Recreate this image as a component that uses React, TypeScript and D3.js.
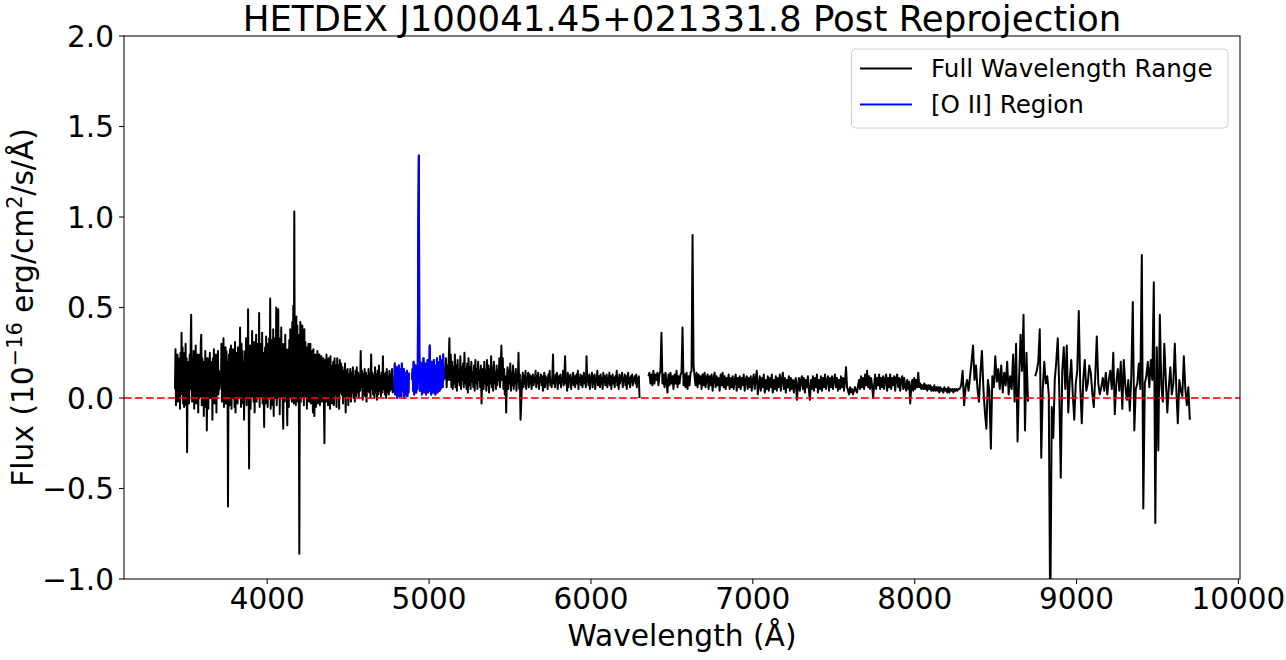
import React from "react";
import * as d3 from "d3";

// ---------- data (flux in 1e-16 erg/cm^2/s/Å) ----------
// Each segment: wavelength start, wavelength end, flux samples (evenly spaced in Å)
const fluxA = [.05,.27,-.04,.20,.02,.24,-.02,.22,.00,.18,-.06,.25,.04,.36,.02,.28,-.03,.25,-.05,.20,.02,.30,-.04,.22,-.30,.18,.00,.20,-.03,.24,.05,.28,.46,.10,-.02,.22,.04,.26,-.06,.20,.02,.29,-.03,.18,.03,.24,-.08,.20,.00,.24,.01,.30,.35,-.04,.22,.00,.20,-.10,.18,.03,.26,-.05,.22,-.18,.15,.22,-.06,.19,.02,.25,.00,.20,.03,.19,-.12,.22,.00,.27,-.03,.21,.02,.24,-.08,.18,.02,.26,.02,.15,.05,.10];
const fluxB = [
  .08,.30,-.02,.25,.05,.33,-.05,.22,.02,.28,
  -.03,.26,.03,.20,-.60,.10,.24,-.04,.27,.02,
  .29,-.06,.22,.01,.27,.00,.24,-.05,.31,-.08,
  .20,.03,.25,-.03,.28,.02,.22,.00,.39,.05,
  -.05,.30,-.02,.26,-.03,.20,-.12,.15,.26,.00,
  .33,-.04,.28,.02,.49,.10,-.39,.20,.29,-.06,
  .25,.03,.37,.01,.28,-.02,.31,-.08,.27,.04,
  .35,-.02,.30,.00,.28,.05,.47,-.05,.26,.04,
  .30,.00,.36,-.03,.25,.02,-.16,.20,.28,-.03,
  .34,.00,.30,-.05,.27,.04,.33,.00,.55,-.06,
  .32,.02,.28,-.04,.38,-.10,.29,.03,.33,.00,
  .50,-.04,.30,.02,.49,.00,.33,-.09,.28,.05,
  .39,.00,.30,-.05,-.17,.22,.30,-.02,.35,.03,
  .27,.05,-.15,.20,.27,-.05,.32,.02,.38,.00,
  .31,-.02,.42,.06,.51,-.03,1.03,.02,.30,-.04,
  .45,.00,.40,-.02,.35,.05,-.86,.15,.42,-.02,
  .37,.00,.40,.03,.35,-.04,.38,.01,.31,.02,
  .28,-.06,.25,.00,.30,-.02,.24,.03,.30,-.03,
  .23,.01,.26,-.08,.27,.00,-.10,.20,.24,-.05,
  .22,.02,.26,-.03,.20,.00,.24,-.04,.21,.03,
  .23,-.02,.19,.01,.22,-.04,-.25,.10,.21,-.02,
  .24,.00,.20,-.04,.22,.01,.20,-.06,.23,.00,.18,-.03];
const fluxC = [.20,-.04,.22,.02,.18,-.05,.22,.00,.18,-.06,.21,.03,.19,.02,.17,-.03,.15,.00,.19,-.08,.15,.02,.16,-.04,.13,.01,.16,-.02,.14,.03,.17,.00,.12,-.02,.15,.01,.17,.03,.14,.00,.13,.04,.26,.06,.15,-.01,.13,.02,.16,.01,.14,-.02,.12,.04,.16,.03,.13,.00,.24,.05,.14,.02,.12,.00,.17,.03,.13,-.01,.15,.02,.18,.04,.12,.01,.14,.03,.23,.05,.13,.02,.14,.00,.16,.03,.12,.02,.15,.04,.13,.05,.16,.03];
const fluxD1 = [.05,.19,.02,.15,.04,.17,.00,.14,.03,.18,.01,.16,.03,.15,.01,.19,.06,.13,.04,.16,.00,.14,.02,.12,.05,.15,.01,.13,.03,.14];
const fluxD2 = [.10,.16,.04,.20,.02,.14,.06,.18,.03,.12,.05,.15,.95,1.34,.25,.04,.20,.06,.17,.02,.19,.05,.22,.03,.15,.07,.19,.02,.16,.05,.21,.03,.18,.06,.29,.04,.15,.02,.20,.05,.17,.03,.21,.06,.14,.02,.18,.05,.22,.03,.16,.06,.20,.04,.23,.05,.17,.08,.21,.06,.24,.10];
const fluxE = [.12,.22,.06,.18,.10,.20,.33,.10,.24,.06,.20,.05,.17,.08,.24,.06,.18,.04,.21,.09,.15,.07,.23,.05,.17,.10,.19,.06,.25,.08,.16,.05,.19,.03,.22,.07,.17,.05,.20,.09,.14,.06,.18,.04,.21,.08,.16,.05,.20,.10,.15,.06,.18,-.03,.12,.16,.05,.20,.08,.15,.04,.21,.07,.18,.03,.16,.08,.23,.06,.17,.04,.20,.08,.14,.05,.18,.07,.15,.10,.22,.06,.17,.29,.10,.22,.05,.16,.02,.12,-.08,.10,.17,.05,.15,.08,.19,.04,.14,.07,.18,.05,.13,.08,.16,.04,.12,.09,.25,.05,.13,-.12];
const fluxF = [.10,.14,.06,.12,.08,.15,.05,.11,.09,.14,.06,.13,.08,.12,.05,.10,.13,.07,.11,.09,.15,.06,.12,.08,.14,.05,.11,.09,.13,.07,.12,.04,.10,.14,.06,.12,.08,.11,.05,.13,.09,.15,.07,.10,.06,.12,.24,.08,.11,.06,.13,.09,.14,.05,.12,.08,.10,.13,.06,.11,.09,.15,.07,.12,.23,.08,.11,.04,.14,.06,.12,.09,.13,.05,.11,.08,.14,.07,.12,.06,.10,.13,.08,.15,.05,.11,.09,.13,.07,.12,.06,.10,.14,.08,.11,.06,.23,.09,.12,.07,.13,.05,.11,.10,.14,.06,.12,.08,.13,.05,.11,.09,.15,.07,.10,.12,.06,.13,.08,.11,.05,.14,.09,.12,.07,.10,.13,.06,.11,.08,.14,.07,.12,.05,.10,.13,.08,.11,.06,.12,.09,.15,.07,.11,.05,.13,.08,.12,.10,.14,.06,.11,.09,.13,.07,.12,.05,.10,.14,.08,.11,.06,.12,.09,.13,.07,.11,.10,.12,.08,.13,.06,.11,.09,.12,.00];
const fluxG = [
  .12,.14,.08,.13,.07,.15,.08,.13,.10,.14,
  .07,.13,.15,.36,.08,.13,.06,.14,.09,.03,
  .13,.07,.14,.08,.12,.05,.13,.08,.15,.06,
  .12,.08,.13,.14,.39,.07,.13,.06,.14,.05,
  .12,.07,.14,.15,.90,.18,.12,.07,.14,.06,
  .13,.08,.12,.05,.13,.07,.14,.06,.11,.13,
  .05,.12,.07,.13,.04,.11,.14,.06,.12,.07,
  .11,.04,.13,.07,.14,.06,.12,.05,.11,.07,
  .13,.05,.11,.06,.12,.05,.10,.13,.04,.11,
  .06,.12,.05,.11,.07,.13,.04,.10,.12,.05,
  .11,.06,.12,.04,.10,.13,.05,.11,.15,.02,
  .07,.12,.04,.11,.06,.13,.03,.10,.05,.12,
  .04,.11,.06,.13,.03,.10,.05,.12,.04,.11,
  .06,.13,.04,.10,.14,.05,.11,.03,.10,.06,
  .12,.04,.11,.05,.10,.03,.09,.11,-.01,.06,
  .11,.04,.10,.12,.05,.11,.03,.10,.06,.12,
  .04,-.01,.10,.05,.12,.04,.11,.06,.13,.03,
  .10,.05,.12,.04,.11,.06,.13,.05,.10,.12,
  .04,.11,.06,.12,.05,.10,.13,.06,.11,.04,
  .10,.05,.12,.06,.11,.04,.10,.17,.06,.04,
  .02,.06,.03,.05,.02,.04,.06,.04,.03,.07,
  .10,.05,.12,.06,.11,.05,.13,.07,.15,.06,
  .12,.05,.11,.07,.00,.07,.13,.05,.11,.07,
  .13,.05,.11,.06,.12,.05,.10,.13,.04,.11,
  .06,.13,.05,.11,.07,.12,.04,.11,.13,.06,
  .11,.04,.10,.12,.05,.11,.06,.04,.10,.05,
  .09,-.03,.06,.10,.04,.11,.05,.10,.06,.14,
  .06,.08,.05,.07,.05,.08,.05,.07,.04,.07,
  .05,.07,.04,.06,.04,.07,.04,.06,.04,.06,
  .03,.06,.04,.05,.03,.06,.04,.05,.03,.06,
  .03,.05,.04,.05,.03,.05,.04,.05,.04,.05];
const fluxH = [.05,.07,.15,-.04,.06,.10,.04,.12,.20,.29,.10,.18,.05,-.02,.14,.26,.05,-.08,-.17,.10,.04,-.28,.12,.06,.23,.09,.16,.05,.18,.03,.14,.07,.20,.02,.12,.05,.24,-.02,.30,-.24,.10,.35,.15,.46,-.18,.25,-.02];
const fluxI = [.12,.15,.20,.38,-.33,.05,.20,.08,.12,.02,-1.25,-.05,-.22,.10,.20,.33,.05,-.44,.15,.28,.05,.29,-.08,.10,.21,.02,-.12,.08,.15,.48,.06,-.14,.10,.21,.04,.08,.18,.14,.03,-.05,.12,.34,.08,.02,.06,.11,.04,.14,.02,.10,.15,.05,.25,-.09,.08,.16,.04,.20,-.06,.21,.07,-.01,.10,-.07,.12,.53,-.18,.05,.08,.19,.05,.79,-.61,.08,.12,.20,.06,.21,.10,.64,-.69,.28,-.29,.46,.07,-.02,.30,.10,-.08,.06,.17,.02,.08,.30,.05,-.14,.10,.04,.01,.23,.05,-.04,.06,-.12];

const segStart = [3430, 3714, 4408, 4785, 4895, 5100, 5575, 6355, 8278, 8745];
const segEnd   = [3708, 4400, 4775, 4875, 5090, 5565, 6300, 8270, 8700, 9700];
const segFlux  = [fluxA, fluxB, fluxC, fluxD1, fluxD2, fluxE, fluxF, fluxG, fluxH, fluxI];
const segGapAfter = [false, false, false, true, false, false, true, false, true, false];

const OII_RANGE = [4780, 5095];
const xTicks = [4000, 5000, 6000, 7000, 8000, 9000, 10000];
const yTicks = [-1.0, -0.5, 0.0, 0.5, 1.0, 1.5, 2.0];
const X_DOMAIN = [3115, 10010];
const Y_DOMAIN = [-1.0, 2.0];

const TITLE = "HETDEX J100041.45+021331.8 Post Reprojection";
const LEGEND = ["Full Wavelength Range", "[O II] Region"];

type P = { w: number; f: number };

function buildPoints(): P[] {
  const pts: P[] = [];
  segFlux.forEach((flux, s) => {
    const n = flux.length;
    const step = (segEnd[s] - segStart[s]) / (n - 1);
    flux.forEach((f, i) => pts.push({ w: segStart[s] + i * step, f }));
    if (segGapAfter[s]) {
      pts.push({ w: (segEnd[s] + segStart[s + 1]) / 2, f: NaN });
    }
  });
  return pts;
}

export default function App() {
  const W = 1286, H = 660;
  const L = 124, R = 1240, T = 36, B = 579;
  const font = "DejaVu Sans, Verdana, sans-serif";

  const x = d3.scaleLinear().domain(X_DOMAIN).range([L, R]);
  const y = d3.scaleLinear().domain(Y_DOMAIN).range([B, T]);

  const pts = buildPoints();
  const blue = pts.filter((p) => p.w >= OII_RANGE[0] && p.w <= OII_RANGE[1]);

  const line = d3
    .line<P>()
    .defined((p) => !isNaN(p.f))
    .x((p) => x(p.w))
    .y((p) => y(p.f));

  const tickFs = 29.5;

  return (
    <div style={{ position: "absolute", left: 0, top: 0 }}>
      <svg width={W} height={H} style={{ display: "block", background: "#fff" }} fontFamily={font}>
        <defs>
          <clipPath id="plotclip">
            <rect x={L} y={T} width={R - L} height={B - T} />
          </clipPath>
        </defs>

        {/* data */}
        <g clipPath="url(#plotclip)">
          <path d={line(pts) || ""} fill="none" stroke="#000" strokeWidth={2} strokeLinejoin="round" />
          <path d={line(blue) || ""} fill="none" stroke="#0000ff" strokeWidth={2} strokeLinejoin="round" />
          <line x1={L} x2={R} y1={y(0)} y2={y(0)} stroke="#ff0000" strokeOpacity={0.8} strokeWidth={2} strokeDasharray="7.7,3.3" />
        </g>

        {/* spines */}
        <rect x={L} y={T} width={R - L} height={B - T} fill="none" stroke="#111" strokeWidth={1.1} />

        {/* x ticks */}
        {xTicks.map((t) => (
          <g key={"x" + t}>
            <line x1={x(t)} x2={x(t)} y1={B} y2={B + 5} stroke="#111" strokeWidth={1.1} />
            <text x={x(t)} y={609} textAnchor="middle" fontSize={tickFs} fill="#000">
              {String(t)}
            </text>
          </g>
        ))}

        {/* y ticks */}
        {yTicks.map((t) => (
          <g key={"y" + t}>
            <line x1={L - 5} x2={L} y1={y(t)} y2={y(t)} stroke="#111" strokeWidth={1.1} />
            <text x={L - 10} y={y(t)} dy="0.36em" textAnchor="end" fontSize={tickFs} fill="#000">
              {(t < 0 ? "\u2212" : "") + Math.abs(t).toFixed(1)}
            </text>
          </g>
        ))}

        {/* axis labels */}
        <text x={(L + R) / 2} y={646} textAnchor="middle" fontSize={29.7} fill="#000">
          Wavelength (Å)
        </text>
        <text transform={`translate(33, ${(T + B) / 2}) rotate(-90)`} textAnchor="middle" fontSize={29.7} fill="#000">
          Flux (10
          <tspan dy={-11} fontSize={20.8}>{"\u221216"}</tspan>
          <tspan dy={11}> erg/cm</tspan>
          <tspan dy={-11} fontSize={20.8}>2</tspan>
          <tspan dy={11}>/s/Å)</tspan>
        </text>

        {/* title */}
        <text x={(L + R) / 2} y={31} textAnchor="middle" fontSize={35.6} fill="#000">
          {TITLE}
        </text>

        {/* legend */}
        <rect x={851.5} y={49} width={376.5} height={79} rx={4} fill="#fff" fillOpacity={0.8} stroke="#d0d0d0" strokeWidth={1} />
        <line x1={860} x2={912} y1={68.5} y2={68.5} stroke="#000" strokeWidth={2} />
        <text x={931} y={77} fontSize={24.6} fill="#000">{LEGEND[0]}</text>
        <line x1={860} x2={912} y1={104.5} y2={104.5} stroke="#0000ff" strokeWidth={2} />
        <text x={931} y={113} fontSize={24.6} fill="#000">{LEGEND[1]}</text>
      </svg>
    </div>
  );
}
